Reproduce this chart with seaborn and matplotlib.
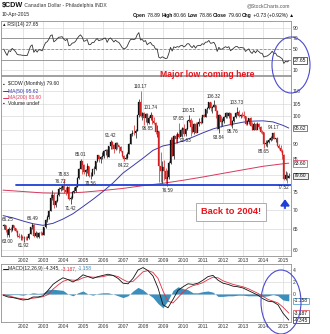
import numpy as np
import pandas as pd
import matplotlib
matplotlib.use("Agg")
import matplotlib.pyplot as plt
from matplotlib.patches import Ellipse
import seaborn as sns

# ---------------- data: $CDW monthly, Jan 2001 .. Apr 2015 ----------------
# closes of 1999-2000, used only to warm up the RSI calculation
close_warmup = [66.1, 66.5, 66.3, 68.6, 68.2, 67.8, 66.7, 67.0, 68.1, 68.0, 68.1, 69.2,
                69.0, 68.9, 68.8, 67.6, 66.7, 67.6, 67.5, 68.0, 66.4, 65.7, 64.8, 65.8]

close = [
    66.0, 64.7, 63.5, 65.1, 64.7, 65.9, 65.3, 64.6, 63.3, 63.0, 63.0, 62.8,      # 2001
    62.8, 62.7, 62.7, 63.8, 65.4, 65.9, 63.2, 64.1, 63.1, 64.1, 63.9, 63.6,      # 2002
    65.4, 67.3, 68.0, 69.7, 73.1, 74.1, 71.1, 72.2, 74.0, 75.8, 76.0, 76.5,      # 2003
    75.4, 74.8, 76.2, 72.8, 73.2, 74.8, 75.2, 76.3, 79.1, 81.9, 84.2, 83.1,      # 2004
    80.7, 81.3, 82.7, 79.5, 79.6, 81.6, 81.6, 84.2, 86.1, 84.8, 85.7, 86.0,      # 2005
    87.6, 87.9, 85.7, 89.3, 90.7, 89.7, 88.4, 90.4, 89.5, 89.1, 87.6, 85.8,      # 2006
    84.9, 85.4, 86.7, 90.1, 93.5, 93.9, 93.7, 94.6, 100.6, 105.6, 100.3, 101.2,  # 2007
    99.5, 101.0, 97.4, 99.3, 100.6, 98.3, 97.6, 94.2, 94.4, 82.7, 81.0, 82.3,    # 2008
    81.0, 78.8, 79.3, 83.8, 91.5, 86.0, 92.8, 91.6, 93.3, 92.5, 94.8, 95.6,      # 2009
    93.5, 95.1, 98.4, 98.5, 95.9, 94.2, 97.2, 94.0, 97.2, 98.0, 97.6, 100.4,     # 2010
    99.7, 103.0, 103.1, 105.7, 103.2, 103.6, 104.6, 102.1, 95.3, 100.4, 97.9, 98.1,  # 2011
    99.8, 101.1, 100.2, 101.2, 96.8, 98.1, 99.8, 101.3, 101.6, 100.1, 100.6, 100.5,  # 2012
    100.2, 97.2, 98.4, 99.3, 96.5, 95.0, 97.3, 95.0, 97.0, 95.9, 94.2, 94.1,     # 2013
    89.8, 90.3, 90.5, 91.3, 92.2, 93.7, 91.7, 92.0, 89.2, 88.7, 87.5, 86.1,      # 2014
    78.7, 80.0, 78.87, 79.60,                                                    # 2015
]
high = [
    66.25, 66.0, 64.9, 65.4, 65.4, 66.0, 66.1, 65.3, 64.7, 64.1, 63.8, 63.5,
    63.3, 63.2, 63.3, 64.0, 65.6, 66.49, 66.3, 64.5, 64.3, 64.3, 64.6, 64.2,
    65.6, 67.5, 68.5, 69.9, 74.2, 75.5, 74.6, 72.5, 74.2, 76.3, 76.72, 76.6,
    78.83, 76.2, 76.7, 76.6, 73.8, 75.1, 76.4, 76.9, 79.2, 82.1, 85.01, 84.3,
    83.3, 81.7, 83.5, 82.8, 80.7, 81.9, 82.6, 84.4, 86.4, 86.2, 86.0, 87.1,
    87.8, 88.2, 88.3, 89.4, 91.42, 90.9, 90.0, 90.5, 90.6, 89.6, 89.3, 87.7,
    86.1, 86.6, 87.1, 90.3, 93.7, 95.0, 96.8, 95.2, 100.7, 106.7, 110.17, 101.8,
    101.6, 101.3, 101.3, 100.0, 101.74, 100.5, 99.7, 97.9, 96.6, 94.7, 87.2, 84.4,
    84.5, 82.1, 81.5, 84.2, 92.4, 92.5, 93.0, 93.6, 94.1, 97.65, 95.4, 96.1,
    97.3, 95.6, 98.7, 100.51, 99.5, 98.6, 97.6, 98.0, 97.9, 99.4, 99.7, 100.4,
    101.0, 103.0, 103.6, 105.8, 105.7, 103.9, 106.32, 104.5, 102.3, 100.8, 100.0, 99.3,
    100.0, 101.5, 101.5, 101.8, 101.4, 98.6, 100.3, 101.6, 103.73, 102.4, 101.0, 101.8,
    101.9, 100.3, 98.8, 99.5, 99.6, 98.0, 97.8, 97.6, 97.9, 97.5, 96.2, 94.9,
    94.2, 91.2, 91.2, 91.9, 92.7, 93.8, 94.17, 92.2, 92.3, 90.1, 89.5, 88.1,
    86.5, 81.0, 80.9, 80.66,
]
low = [
    64.9, 64.3, 63.00, 63.1, 64.2, 64.6, 64.8, 64.2, 63.0, 62.8, 62.3, 62.2,
    61.92, 62.2, 62.3, 62.6, 63.7, 64.9, 63.0, 62.9, 62.7, 62.7, 63.6, 63.4,
    63.5, 65.2, 66.8, 67.6, 69.7, 72.6, 70.5, 70.7, 72.0, 73.8, 75.2, 75.4,
    74.6, 74.1, 74.5, 72.6, 71.42, 72.8, 74.6, 74.8, 76.3, 78.6, 81.7, 80.3,
    80.2, 79.5, 80.6, 79.4, 78.56, 79.5, 80.2, 81.3, 84.0, 84.0, 83.5, 85.0,
    85.4, 86.1, 85.2, 85.6, 88.4, 88.4, 87.0, 87.8, 88.4, 87.0, 87.2, 85.6,
    84.22, 84.8, 84.9, 86.5, 89.9, 92.8, 93.1, 91.9, 94.6, 99.9, 99.6, 98.6,
    96.9, 97.7, 96.85, 97.1, 98.7, 97.0, 97.1, 93.6, 92.5, 77.9, 77.8, 77.5,
    78.5, 77.3, 76.59, 78.6, 83.3, 85.9, 85.1, 90.2, 90.2, 92.1, 92.9, 92.4,
    92.9, 92.63, 94.9, 97.7, 92.7, 93.9, 93.5, 93.7, 94.4, 96.5, 97.2, 97.6,
    99.6, 99.6, 101.2, 102.8, 101.9, 101.1, 103.5, 99.5, 95.2, 93.84, 96.0, 96.4,
    97.6, 99.4, 99.2, 99.2, 96.4, 95.76, 97.8, 99.5, 100.6, 99.6, 99.5, 99.8,
    99.3, 96.9, 96.9, 97.0, 96.3, 94.8, 94.8, 94.8, 95.3, 95.4, 93.9, 93.3,
    88.65, 89.2, 88.9, 90.4, 91.0, 91.4, 91.6, 90.8, 89.2, 88.3, 87.2, 85.1,
    78.3, 78.5, 77.52, 78.86,
]
last_open = 78.89

# moving averages (50- and 200-month)
ma50_x = [2001.0, 2001.5, 2002.0, 2002.5, 2003.0, 2003.5, 2004.0, 2004.5, 2005.0, 2005.5,
          2006.0, 2006.5, 2007.0, 2007.5, 2008.0, 2008.5, 2009.0, 2009.5, 2010.0, 2010.5,
          2011.0, 2011.5, 2012.0, 2012.5, 2013.0, 2013.5, 2014.0, 2014.5, 2015.0, 2015.29]
ma50_v = [68.4, 67.8, 67.0, 66.3, 65.9, 66.4, 67.5, 68.9, 70.8, 72.8,
          75.0, 77.5, 80.5, 82.8, 85.2, 87.8, 89.3, 90.0, 91.0, 92.4,
          93.9, 95.3, 96.3, 97.1, 97.8, 98.2, 98.3, 97.9, 96.6, 95.62]
ma200_x = [2001.0, 2002.0, 2003.0, 2004.0, 2005.0, 2006.0, 2007.0, 2008.0, 2009.0,
           2010.0, 2011.0, 2012.0, 2013.0, 2014.0, 2015.0, 2015.29]
ma200_v = [75.4, 75.0, 74.6, 74.5, 74.8, 75.3, 75.9, 76.7, 77.4,
           78.3, 79.3, 80.4, 81.5, 82.6, 83.4, 83.60]

# MACD(12,26,9) line and signal line, quarterly
macd_x = [2001.0 + 0.25 * i for i in range(57)] + [2015.29]
macd_v = [-0.2, -0.5, -0.6, -0.8, -1.0, -0.9, -0.5, -0.5,
          -0.3, 0.6, 1.6, 2.2, 2.7, 2.4, 2.0, 2.5,
          3.2, 2.9, 2.6, 2.9, 3.1, 3.3, 3.1, 2.6,
          1.8, 1.7, 2.6, 4.0, 4.4, 3.9, 3.0, 1.0,
          -1.8, -2.3, -0.9, 0.6, 1.2, 1.7, 1.6, 1.8,
          2.3, 2.9, 3.1, 2.3, 1.8, 1.6, 1.3, 1.2,
          1.0, 0.6, 0.2, -0.2, -0.8, -1.2, -1.3, -1.8,
          -3.2, -4.345]
signal_v = [-0.1, -0.3, -0.5, -0.7, -0.8, -0.9, -0.7, -0.6,
            -0.45, -0.1, 0.8, 1.5, 2.1, 2.4, 2.3, 2.3,
            2.7, 2.9, 2.8, 2.8, 2.9, 3.1, 3.1, 2.9,
            2.4, 2.0, 2.1, 2.9, 3.7, 3.9, 3.6, 2.6,
            0.5, -1.2, -1.5, -0.6, 0.3, 1.0, 1.4, 1.6,
            1.9, 2.4, 2.8, 2.7, 2.2, 1.9, 1.6, 1.4,
            1.2, 0.9, 0.5, 0.1, -0.4, -0.9, -1.2, -1.5,
            -2.2, -3.187]

support_level = 77.0

# swing highs / lows annotated on the price panel
swing_labels = [("2001-01", "H"), ("2001-03", "L"), ("2002-01", "L"), ("2002-06", "H"),
                ("2003-11", "H"), ("2004-01", "H"), ("2004-05", "L"), ("2004-11", "H"),
                ("2005-05", "L"), ("2006-05", "H"), ("2007-01", "L"), ("2007-11", "H"),
                ("2008-05", "H"), ("2008-03", "L"), ("2009-03", "L"), ("2009-10", "H"),
                ("2010-02", "L"), ("2010-04", "H"), ("2011-07", "H"), ("2011-10", "L"),
                ("2012-06", "L"), ("2012-09", "H"), ("2014-01", "L"), ("2014-07", "H"),
                ("2015-03", "L")]

year_ticks = list(range(2002, 2016))
price_ticks = [60, 65, 70, 75, 80, 85, 90, 95, 100, 105, 110]
price_tick_text = ["60", "65", "70", "75", "", "85", "90", "", "100", "105", "110"]
rsi_ticks = [10, 50, 70, 90]
macd_ticks = [0, 2, 4]

# ---------------- derived frames ----------------
months = pd.date_range("2001-01-01", periods=len(close), freq="MS")
df = pd.DataFrame({"date": months, "close": close, "high": high, "low": low})
df["x"] = df["date"].dt.year + (df["date"].dt.month - 1) / 12 + 1 / 24
df["open"] = [close_warmup[-1]] + close[:-1]
df.loc[df.index[-1], "open"] = last_open

full = pd.Series(close_warmup + close, dtype=float)
delta = full.diff()
gain = delta.clip(lower=0).ewm(alpha=1 / 14, adjust=False).mean()
loss = (-delta.clip(upper=0)).ewm(alpha=1 / 14, adjust=False).mean()
df["rsi"] = (100 - 100 / (1 + gain / loss)).values[len(close_warmup):]

mdf = pd.DataFrame({"x": macd_x, "macd": macd_v, "signal": signal_v})
mdf["hist"] = mdf["macd"] - mdf["signal"]

# ---------------- figure ----------------
sns.set_theme(style="white")
plt.rcParams["font.family"] = ["Liberation Sans", "DejaVu Sans"]
W, H = 330, 334
fig = plt.figure(figsize=(W / 100, H / 100), dpi=100)
fig.patch.set_facecolor("white")

def panel(top, bottom, left=1, right=291):
    return fig.add_axes([left / W, 1 - bottom / H, (right - left) / W, (bottom - top) / H])

ax_r = panel(21, 75)
ax_p = panel(76, 256)
ax_m = panel(264, 322)

XL = (2000.9, 2015.4)
FS = 3.6
GRID = "#dadada"
NAVY = "#3c3ca8"
RED = "#d8385a"
BLUE = "#1f3fd6"
HIST = "#3b8fbd"

for ax in (ax_r, ax_p, ax_m):
    ax.set_facecolor("white")
    ax.set_xlim(*XL)
    ax.set_xticks(year_ticks)
    ax.grid(True, color=GRID, lw=0.5)
    ax.set_axisbelow(True)
    ax.yaxis.tick_right()
    ax.tick_params(axis="both", length=0, labelsize=FS, colors="#333", pad=1.5)
    for s in ax.spines.values():
        s.set_color("#909090")
        s.set_linewidth(0.6)

def tag(ax, y, text, ec, fc="white", tc="#111"):
    ax.annotate(text, xy=(1, y), xycoords=("axes fraction", "data"), xytext=(2.2, 0),
                textcoords="offset points", ha="left", va="center", fontsize=FS, color=tc,
                bbox=dict(boxstyle="square,pad=0.18", fc=fc, ec=ec, lw=0.5),
                annotation_clip=False, zorder=10)

# ---- RSI panel ----
ax_r.set_ylim(0.5, 103.3)
ax_r.set_yticks(rsi_ticks)
ax_r.set_xticklabels([])
for lvl, ls in ((70, "-"), (30, "-"), (50, (0, (3, 2)))):
    ax_r.axhline(lvl, color="#8a8a8a", lw=0.6, ls=ls, zorder=1)
sns.lineplot(data=df, x="x", y="rsi", ax=ax_r, color="#333333", lw=0.6, estimator=None)
tag(ax_r, df["rsi"].iloc[-1], "27.65", "#222")

# ---- price panel ----
ax_p.set_yscale("log")
ax_p.set_ylim(58.6, 116.7)
ax_p.set_yticks(price_ticks)
ax_p.set_yticklabels(price_tick_text)
ax_p.yaxis.set_minor_locator(matplotlib.ticker.NullLocator())
ax_p.set_xticklabels([str(y) for y in year_ticks])

ma50 = pd.DataFrame({"x": ma50_x, "v": ma50_v})
ma200 = pd.DataFrame({"x": ma200_x, "v": ma200_v})
sns.lineplot(data=ma200, x="x", y="v", ax=ax_p, color=RED, lw=0.7, estimator=None)
sns.lineplot(data=ma50, x="x", y="v", ax=ax_p, color=NAVY, lw=0.7, estimator=None)

prev = df["close"].shift(1).fillna(close_warmup[-1])
up = df["close"] >= prev
cols = np.where(up, "#111111", "#d42020")
ax_p.vlines(df["x"], df["low"], df["high"], colors=cols, lw=0.5, zorder=3)
body_lo = np.minimum(df["open"], df["close"])
body_hi = np.maximum(df["open"], df["close"])
ax_p.bar(df["x"], body_hi - body_lo, bottom=body_lo, width=0.065, color=cols,
         edgecolor=cols, lw=0.2, zorder=4)

ax_p.plot([2001.65, 2015.4], [support_level, support_level], color=BLUE, lw=1.3, zorder=5)

for ym, kind in swing_labels:
    r = df[df["date"] == pd.Timestamp(ym + "-01")].iloc[0]
    xx = min(max(r["x"], 2001.25), 2015.05)
    if kind == "H":
        ax_p.annotate(f"{r['high']:.2f}", xy=(xx, r["high"]), xytext=(0, 1.2),
                      textcoords="offset points", ha="center", va="bottom", fontsize=3.3,
                      color="#222", zorder=6)
    else:
        ax_p.annotate(f"{r['low']:.2f}", xy=(xx, r["low"]), xytext=(0, -1.2),
                      textcoords="offset points", ha="center", va="top", fontsize=3.3,
                      color="#222", zorder=6)

ax_p.annotate("", xy=(2015.1, 73.6), xytext=(2015.1, 69.6),
              arrowprops=dict(arrowstyle="-|>,head_width=0.22,head_length=0.3",
                              color=BLUE, lw=1.3))

tag(ax_p, 95.62, "95.62", NAVY)
tag(ax_p, 83.60, "83.60", RED)
tag(ax_p, df["close"].iloc[-1], "79.60", "#222", fc="#eeeeee")

# ---- MACD panel ----
ax_m.set_ylim(-4.67, 5.0)
ax_m.set_yticks(macd_ticks)
ax_m.set_xticklabels([str(y) for y in year_ticks])
ax_m.fill_between(mdf["x"], 0, mdf["hist"], color=HIST, lw=0, zorder=2)
sns.lineplot(data=mdf, x="x", y="signal", ax=ax_m, color="#e03040", lw=0.6, estimator=None)
sns.lineplot(data=mdf, x="x", y="macd", ax=ax_m, color="#111111", lw=0.6, estimator=None)
tag(ax_m, mdf["hist"].iloc[-1], "-1.158", HIST)
tag(ax_m, mdf["signal"].iloc[-1], "-3.187", "#e03040")
tag(ax_m, mdf["macd"].iloc[-1], "-4.345", "#222")

for ax in (ax_r, ax_p, ax_m):
    ax.set_xlabel("")
    ax.set_ylabel("")

# ---------------- overlay: header, legends, notes ----------------
ov = fig.add_axes([0, 0, 1, 1], zorder=20)
ov.set_xlim(0, W)
ov.set_ylim(H, 0)
ov.axis("off")
ov.patch.set_alpha(0)

t = ov.text(2, 6, "$CDW", fontsize=5.2, fontweight="bold", va="center", ha="left", color="#111")
ov.annotate(" Canadian Dollar - Philadelphia INDX", xy=(1, 0.5), xycoords=t, va="center",
            ha="left", fontsize=FS, color="#333")
ov.text(290, 6, "@StockCharts.com", fontsize=FS, ha="right", va="center", color="#555")
ov.text(2, 14.5, "10-Apr-2015", fontsize=FS, ha="left", va="center", color="#222")

pieces = [("Open", True), (" 78.89 ", False), ("High", True), (" 80.66 ", False),
          ("Low", True), (" 78.86 ", False), ("Close", True), (" 79.60 ", False),
          ("Chg", True), (" +0.73 (+0.92%) \u25b2", False)]
prev_t = ov.text(133, 15.5, pieces[0][0], fontsize=FS, fontweight="bold", va="center", ha="left",
                 color="#111")
for txt, bold in pieces[1:]:
    prev_t = ov.annotate(txt, xy=(1, 0.5), xycoords=prev_t, va="center", ha="left",
                         fontsize=FS, fontweight="bold" if bold else "normal", color="#111")

rt = ov.text(3, 24.5, "\u25b4", fontsize=FS, va="center", ha="left", color="#111")
ov.annotate(" RSI(14) 27.65", xy=(1, 0.5), xycoords=rt, va="center", ha="left", fontsize=FS,
            color="#222")

ov.text(3, 84, "\u25aa", fontsize=FS, va="center", ha="left", color="#111")
ov.text(8, 84, "$CDW (Monthly) 79.60", fontsize=FS, va="center", ha="left", color="#222")
ov.plot([3, 7.5], [91, 91], color=NAVY, lw=0.7)
ov.text(8, 91, "MA(50) 95.62", fontsize=FS, va="center", ha="left", color=NAVY)
ov.plot([3, 7.5], [97.5, 97.5], color=RED, lw=0.7)
ov.text(8, 97.5, "MA(200) 83.60", fontsize=FS, va="center", ha="left", color=RED)
ov.text(3, 103.5, "\u25aa", fontsize=FS, va="center", ha="left", color="#111")
ov.text(8, 103.5, "Volume undef", fontsize=FS, va="center", ha="left", color="#222")

ov.plot([3, 7.5], [268.5, 268.5], color="#111", lw=0.7)
m1 = ov.text(8, 268.5, "MACD(12,26,9) -4.345, ", fontsize=FS, va="center", ha="left",
             color="#222")
m2 = ov.annotate("-3.187, ", xy=(1, 0.5), xycoords=m1, va="center", ha="left", fontsize=FS,
                 color="#e03040")
ov.annotate("-1.158", xy=(1, 0.5), xycoords=m2, va="center", ha="left", fontsize=FS,
            color=HIST)

ov.text(160, 74.5, "Major low coming here", fontsize=6.2, fontweight="bold",
        color="#e8141c", ha="left", va="center")
ov.text(231, 212, "Back to 2004!", fontsize=6.7, fontweight="bold",
        color="#e8141c", ha="center", va="center",
        bbox=dict(boxstyle="square,pad=0.5", fc="white", ec="#a0a0a0", lw=0.6))

ov.add_patch(Ellipse((291, 65), 38, 56, fill=False, ec="#4a4ad0", lw=0.8))
ov.add_patch(Ellipse((281, 302), 40, 64, fill=False, ec="#4a4ad0", lw=0.8))

fig.savefig("out.png", dpi=100, facecolor="white")
